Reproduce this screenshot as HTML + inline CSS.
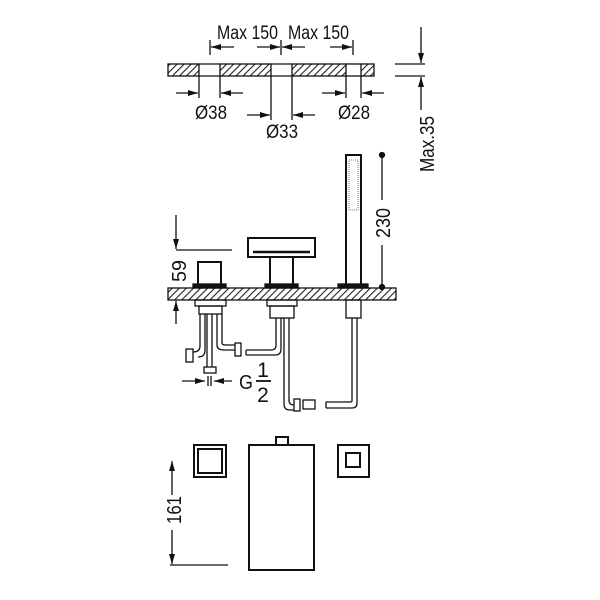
<!DOCTYPE html><html><head><style>body{margin:0;background:#fff}svg{display:block}text{font-family:"Liberation Sans",sans-serif;fill:#111}</style></head><body>
<svg width="600" height="600" viewBox="0 0 600 600" xmlns="http://www.w3.org/2000/svg">
<defs>
<pattern id="h" width="5" height="5" patternUnits="userSpaceOnUse" patternTransform="rotate(45)"><rect width="5" height="5" fill="#fff"/><line x1="0" y1="0" x2="0" y2="5" stroke="#222" stroke-width="2.2"/></pattern>
<marker id="a" viewBox="0 0 10 6" refX="10" refY="3" markerWidth="11" markerHeight="6" orient="auto" markerUnits="userSpaceOnUse"><path d="M0,0 L10,3 L0,6z" fill="#111"/></marker>
</defs>
<g stroke="#111" fill="none" stroke-width="1.3">
<rect x="168" y="64" width="31" height="12" fill="url(#h)"/>
<rect x="220" y="64" width="51" height="12" fill="url(#h)"/>
<rect x="292" y="64" width="54" height="12" fill="url(#h)"/>
<rect x="361" y="64" width="13" height="12" fill="url(#h)"/>
<line x1="199" y1="64" x2="220" y2="64"/><line x1="199" y1="76" x2="220" y2="76"/>
<line x1="271" y1="64" x2="292" y2="64"/><line x1="271" y1="76" x2="292" y2="76"/>
<line x1="346" y1="64" x2="361" y2="64"/><line x1="346" y1="76" x2="361" y2="76"/>
<line x1="210" y1="40" x2="210" y2="55"/><line x1="281" y1="40" x2="281" y2="55"/><line x1="353" y1="40" x2="353" y2="55"/>
<line x1="234" y1="47" x2="211" y2="47" marker-end="url(#a)"/>
<line x1="257" y1="47" x2="280" y2="47" marker-end="url(#a)"/>
<line x1="305" y1="47" x2="282" y2="47" marker-end="url(#a)"/>
<line x1="330" y1="47" x2="352" y2="47" marker-end="url(#a)"/>
<line x1="199" y1="76" x2="199" y2="98"/><line x1="220" y1="76" x2="220" y2="98"/>
<line x1="176" y1="93" x2="198" y2="93" marker-end="url(#a)"/><line x1="243" y1="93" x2="221" y2="93" marker-end="url(#a)"/>
<line x1="271" y1="76" x2="271" y2="120"/><line x1="292" y1="76" x2="292" y2="120"/>
<line x1="247" y1="115" x2="270" y2="115" marker-end="url(#a)"/><line x1="315" y1="115" x2="293" y2="115" marker-end="url(#a)"/>
<line x1="346" y1="76" x2="346" y2="98"/><line x1="361" y1="76" x2="361" y2="98"/>
<line x1="322" y1="93" x2="345" y2="93" marker-end="url(#a)"/><line x1="384" y1="93" x2="362" y2="93" marker-end="url(#a)"/>
<line x1="395" y1="64" x2="425" y2="64"/><line x1="395" y1="76" x2="425" y2="76"/>
<line x1="421" y1="27" x2="421" y2="63" marker-end="url(#a)"/>
<line x1="421" y1="110" x2="421" y2="77" marker-end="url(#a)"/>
<rect x="168" y="288" width="228" height="12" fill="url(#h)"/>
<rect x="346" y="155" width="15" height="130" stroke-width="2"/>
<rect x="349" y="160" width="9" height="50" stroke-width="0.6" stroke-dasharray="1 1"/>
<rect x="338" y="284" width="30" height="4" fill="#111"/>
<circle cx="382" cy="155" r="2.5" fill="#111"/><circle cx="382" cy="287" r="2.5" fill="#111"/>
<line x1="382" y1="155" x2="382" y2="200"/><line x1="382" y1="245" x2="382" y2="287"/>
<rect x="248" y="238" width="67" height="19" stroke-width="2"/>
<line x1="253" y1="252" x2="310" y2="252" stroke-width="2.5"/>
<rect x="270" y="257" width="23" height="28" stroke-width="2"/>
<rect x="265" y="284" width="33" height="4" fill="#111"/>
<rect x="198" y="262" width="23" height="23" stroke-width="2"/>
<rect x="193" y="284" width="33" height="4" fill="#111"/>
<line x1="176" y1="215" x2="176" y2="249" marker-end="url(#a)"/>
<line x1="176" y1="250" x2="232" y2="250"/>
<line x1="176" y1="324" x2="176" y2="301" marker-end="url(#a)"/>
<rect x="195" y="300" width="31" height="6"/><rect x="199" y="306" width="23" height="8"/>
<path d="M200 314 V346 Q200 352 193 352 M205 314 V350 Q205 357 198 357"/>
<rect x="186" y="349" width="7" height="13"/>
<path d="M207 314 V367 M212 314 V367"/><rect x="204" y="367" width="12" height="6"/>
<path d="M217 314 V345 Q217 350 224 350 H235 M222 314 V343 Q222 345 226 345 H235"/>
<rect x="235" y="343" width="6" height="13"/>
<rect x="267" y="300" width="30" height="6"/><rect x="270" y="306" width="24" height="12"/>
<path d="M276 318 V345 Q276 350 271 350 H246 M281 318 V349 Q281 355 275 355 H246 M246 350 V355"/>
<path d="M284 318 V404 Q284 410 290 410 H294 M289 318 V400 Q289 405 294 405"/>
<rect x="294" y="399" width="6" height="12"/><rect x="303" y="400" width="12" height="9"/>
<rect x="346" y="300" width="15" height="18"/>
<path d="M352 318 V401 Q352 402 350 402 H326 M357 318 V403 Q357 408 352 408 H326 M326 402 V408"/>
<line x1="182" y1="381" x2="205" y2="381" marker-end="url(#a)"/>
<line x1="232" y1="381" x2="214" y2="381" marker-end="url(#a)"/>
<line x1="208" y1="376" x2="208" y2="386"/><line x1="211" y1="376" x2="211" y2="386"/>
<line x1="256" y1="381" x2="271" y2="381" stroke-width="1.8"/>
<rect x="194" y="445" width="32" height="32" stroke-width="2"/><rect x="198" y="449" width="24" height="24" stroke-width="2"/>
<rect x="249" y="445" width="65" height="125" stroke-width="2"/>
<rect x="276" y="437" width="12" height="8" stroke-width="2"/>
<rect x="338" y="445" width="31" height="32" stroke-width="2"/><rect x="346" y="453" width="14" height="14" stroke-width="2"/>
<line x1="172" y1="495" x2="172" y2="461" marker-end="url(#a)"/>
<line x1="172" y1="530" x2="172" y2="564" marker-end="url(#a)"/>
<line x1="170" y1="565" x2="228" y2="565"/>
</g>
<g font-size="19">
<text x="217" y="39" textLength="61" lengthAdjust="spacingAndGlyphs">Max 150</text>
<text x="288" y="39" textLength="61" lengthAdjust="spacingAndGlyphs">Max 150</text>
<text x="195" y="119" textLength="32" lengthAdjust="spacingAndGlyphs">Ø38</text>
<text x="266" y="138" textLength="32" lengthAdjust="spacingAndGlyphs">Ø33</text>
<text x="338" y="119" textLength="32" lengthAdjust="spacingAndGlyphs">Ø28</text>
<text transform="translate(434 172) rotate(-90)" textLength="56" lengthAdjust="spacingAndGlyphs" font-size="20">Max.35</text>
<text transform="translate(390 238) rotate(-90)" textLength="30" lengthAdjust="spacingAndGlyphs" font-size="20">230</text>
<text transform="translate(186 282) rotate(-90)" textLength="22" lengthAdjust="spacingAndGlyphs" font-size="20">59</text>
<text transform="translate(181 524) rotate(-90)" textLength="28" lengthAdjust="spacingAndGlyphs" font-size="20">161</text>
<text x="239" y="389" font-size="20" textLength="14" lengthAdjust="spacingAndGlyphs">G</text>
<text x="263" y="377" text-anchor="middle" font-size="21">1</text>
<text x="263" y="402" text-anchor="middle" font-size="21">2</text>
</g>
</svg>
</body></html>
